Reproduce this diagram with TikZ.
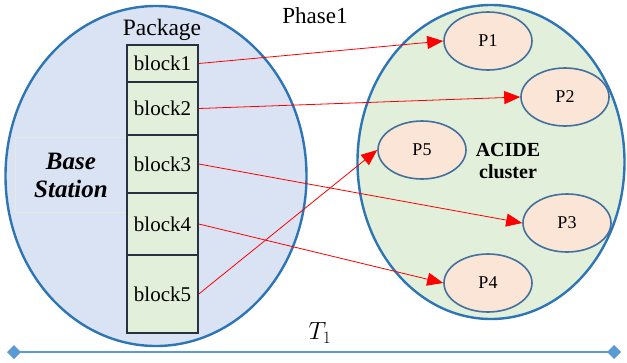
\documentclass[tikz,border=0pt]{standalone}
\usepackage{fontspec}
\setmainfont{Liberation Serif}
\usetikzlibrary{arrows.meta,shapes.geometric}

\definecolor{stationblue}{RGB}{218,227,243}
\definecolor{clustergreen}{RGB}{226,239,218}
\definecolor{ringblue}{RGB}{46,117,182}
\definecolor{procpink}{RGB}{251,229,214}
\definecolor{procedge}{RGB}{65,113,156}
\definecolor{blockedge}{RGB}{38,50,64}
\definecolor{timeblue}{RGB}{91,155,213}

\tikzset{
  every block/.style={draw=blockedge, line width=1.6pt, fill=clustergreen,
    minimum width=71pt, inner sep=0pt, font=\fontsize{21}{21}\selectfont},
  every proc/.style={ellipse, draw=procedge, line width=1.6pt, fill=procpink,
    minimum width=88pt, minimum height=58pt, inner sep=0pt,
    font=\fontsize{18}{18}\selectfont},
  send/.style={red, line width=0.8pt, -{Triangle[length=16pt,width=13pt]}},
}

\begin{document}
\begin{tikzpicture}[x=1pt, y=-1pt]
\useasboundingbox (0,0) rectangle (627,362);

% the two areas
\node [ellipse, draw=ringblue, line width=2.4pt, fill=stationblue,
  minimum width=301pt, minimum height=340pt] (station) at (156,176) {};
\node [ellipse, draw=ringblue, line width=2.4pt, fill=clustergreen,
  minimum width=267pt, minimum height=314pt] (cluster) at (491,162) {};

\node [draw=clustergreen!70!stationblue, fill=stationblue, line width=0.6pt,
  minimum width=112pt, minimum height=75pt, align=center,
  font=\fontsize{25}{28}\selectfont\bfseries\itshape] (bs) at (71,175) {Base\\Station};

% package split into blocks
\foreach \i/\t/\b in {1/45/82, 2/82/135, 3/135/193, 4/193/255, 5/255/333}
  \node [every block/.try, minimum height={(\b-\t)*1pt}]
    (block-\i) at (162.5,{(\t+\b)/2}) {block\i};

\node [font=\fontsize{23.5}{23.5}\selectfont] (package) at (162,30) {Package};
\node [font=\fontsize{23}{23}\selectfont] (phase) at (315,16) {Phase1};

% processes of the cluster
\foreach \i/\x/\y in {1/488/41, 2/565/97, 3/567/223, 4/488/283, 5/422/150}
  \node [every proc/.try] (proc-\i) at (\x,\y) {P\i};

\node [align=center, font=\fontsize{20}{22}\selectfont\bfseries]
  (acide) at (508,161) {ACIDE\\cluster};

\foreach \i in {1,...,5}
  \draw [send] (block-\i.east) -- (proc-\i.west);

% time line
\coordinate (t-start) at (7,352);
\coordinate (t-end) at (621,352);
\draw [timeblue, line width=2.4pt, {Diamond[length=14pt,width=14pt]}-{Diamond[length=14pt,width=14pt]}]
  (t-start) -- (t-end);
\node [font=\fontsize{25}{25}\selectfont] (period) at (320,333) {$T_1$};
\end{tikzpicture}
\end{document}
